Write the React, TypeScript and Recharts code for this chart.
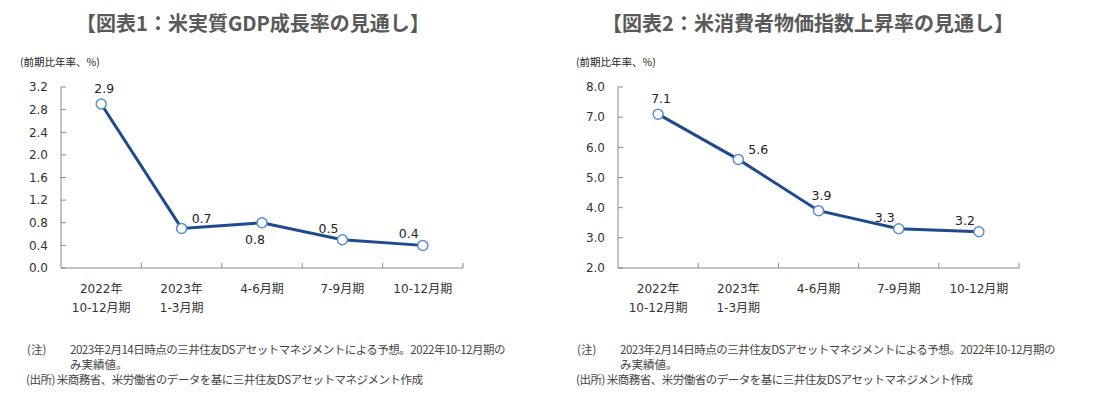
import { LineChart, Line, XAxis, YAxis, LabelList } from "recharts";

const periods = ["2022年\n10-12月期", "2023年\n1-3月期", "4-6月期", "7-9月期", "10-12月期"];
const gdpGrowth = [2.9, 0.7, 0.8, 0.5, 0.4];
const cpiInflation = [7.1, 5.6, 3.9, 3.3, 3.2];
const gdpTicks = [0, 0.4, 0.8, 1.2, 1.6, 2.0, 2.4, 2.8, 3.2];
const cpiTicks = [2, 3, 4, 5, 6, 7, 8];
// where each value label sits relative to its point
const gdpLabelSides = ["top", "right", "bottom", "left", "left"];
const cpiLabelSides = ["top", "right", "top", "left", "left"];

const NOTE = "2023年2月14日時点の三井住友DSアセットマネジメントによる予想。2022年10-12月期の";
const NOTE2 = "み実績値。";
const SOURCE = "米商務省、米労働省のデータを基に三井住友DSアセットマネジメント作成";

const FONT = "'DejaVu Sans', 'Noto Sans CJK JP', sans-serif";
const JP = "'Noto Sans CJK JP', sans-serif";
const AXIS = "#8a8a8a";
const LINE = "#1f4a8e";
const DOT = "#5b8dd0";

const LABEL_OFFSET: Record<string, [number, number]> = {
  top: [3, -11],
  right: [20, -5],
  bottom: [-7, 21],
  left: [-14, -7],
};

type PanelProps = {
  left: number;
  width: number;
  title: string;
  values: number[];
  ticks: number[];
  domain: [number, number];
  sides: string[];
  yAxisWidth: number;
  rightMargin: number;
  titleCenter: number;
  unitX: number;
  noteX: number;
};

function Panel(p: PanelProps) {
  const data = periods.map((name, i) => ({ name, v: p.values[i] }));
  const plotW = p.width - p.yAxisWidth - p.rightMargin;
  const bw = plotW / periods.length;

  const XTick = (props: any) => {
    const { x, y, payload, index } = props;
    const lines = String(payload.value).split("\n");
    return (
      <g>
        <line x1={x + bw / 2} x2={x + bw / 2} y1={y} y2={y - 5} stroke={AXIS} />
        {lines.map((t, i) => (
          <text key={i} x={x} y={y + 25 + i * 19} textAnchor="middle" fontSize={12} fill="#333" fontFamily={FONT}>
            {t}
          </text>
        ))}
        {index === 0 && null}
      </g>
    );
  };

  const renderLabel = (props: any) => {
    const { x, y, value, index } = props;
    const [dx, dy] = LABEL_OFFSET[p.sides[index]];
    return (
      <text x={x + dx} y={y + dy} textAnchor="middle" fontSize={12.5} fill="#222" fontFamily={FONT}>
        {Number(value).toFixed(1)}
      </text>
    );
  };

  return (
    <div style={{ position: "absolute", left: p.left, top: 0, width: p.width, height: 397 }}>
      <div
        style={{
          position: "absolute", left: p.titleCenter - 300, width: 600, top: 8, textAlign: "center",
          fontFamily: JP, fontWeight: 700, fontSize: 20, color: "#595959", lineHeight: "30px",
        }}
      >
        {p.title}
      </div>
      <div style={{ position: "absolute", left: p.unitX, top: 54, fontFamily: JP, fontSize: 10.5, color: "#222" }}>
        (前期比年率、%)
      </div>
      <LineChart
        width={p.width}
        height={397}
        data={data}
        margin={{ top: 87, right: p.rightMargin, left: 0, bottom: 0 }}
        style={{ position: "absolute", left: 0, top: 0 }}
      >
        <XAxis
          dataKey="name"
          scale="band"
          height={129}
          interval={0}
          tickLine={false}
          tickSize={0}
          tickMargin={0}
          axisLine={{ stroke: AXIS }}
          tick={<XTick />}
        />
        <YAxis
          width={p.yAxisWidth}
          domain={p.domain}
          ticks={p.ticks}
          interval={0}
          tickSize={-5}
          tickMargin={18}
          axisLine={{ stroke: AXIS }}
          tickLine={{ stroke: AXIS }}
          tick={{ fontSize: 12, fill: "#333", fontFamily: FONT }}
          tickFormatter={(v: number) => v.toFixed(1)}
        />
        <Line
          dataKey="v"
          stroke={LINE}
          strokeWidth={3}
          dot={{ r: 5, fill: "#fff", stroke: DOT, strokeWidth: 1.5 }}
          isAnimationActive={false}
        >
          <LabelList dataKey="v" content={renderLabel} />
        </Line>
      </LineChart>
      <div style={{ position: "absolute", left: 0, top: 342, width: p.width, fontFamily: JP, fontSize: 11.5, color: "#444", lineHeight: "15px" }}>
        <div style={{ position: "absolute", left: p.noteX, top: 0 }}>(注)</div>
        <div style={{ position: "absolute", left: p.noteX + 43, top: 0, whiteSpace: "nowrap", letterSpacing: -0.5 }}>{NOTE}</div>
        <div style={{ position: "absolute", left: p.noteX + 43, top: 15, whiteSpace: "nowrap" }}>{NOTE2}</div>
        <div style={{ position: "absolute", left: p.noteX - 1, top: 30, whiteSpace: "nowrap", letterSpacing: -0.5 }}>(出所) {SOURCE}</div>
      </div>
    </div>
  );
}

export default function App() {
  return (
    <div style={{ position: "absolute", left: 0, top: 0, width: 1099, height: 397, background: "#fff", overflow: "hidden" }}>
      <Panel
        left={0}
        width={550}
        title="【図表1：米実質GDP成長率の見通し】"
        values={gdpGrowth}
        ticks={gdpTicks}
        domain={[0, 3.2]}
        sides={gdpLabelSides}
        yAxisWidth={61}
        rightMargin={87}
        titleCenter={253}
        unitX={20}
        noteX={27}
      />
      <Panel
        left={550}
        width={549}
        title="【図表2：米消費者物価指数上昇率の見通し】"
        values={cpiInflation}
        ticks={cpiTicks}
        domain={[2, 8]}
        sides={cpiLabelSides}
        yAxisWidth={68}
        rightMargin={80}
        titleCenter={258}
        unitX={26}
        noteX={27}
      />
    </div>
  );
}
